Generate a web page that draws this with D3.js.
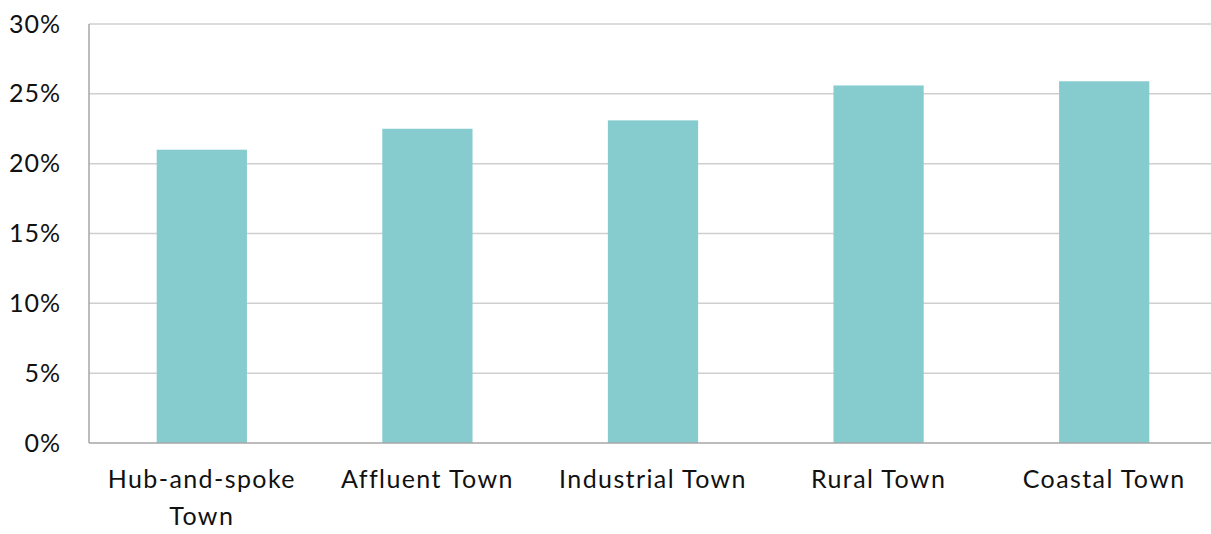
<!DOCTYPE html>
<html>
<head>
<meta charset="utf-8">
<script src="https://cdn.jsdelivr.net/npm/d3@7"></script>
<style>
  body { margin: 0; background: #fff; }
  text { font-family: Lato, "Noto Sans", sans-serif; fill: #111; }
</style>
</head>
<body>
<svg id="chart" width="1211" height="534"></svg>
<script>
/* Share by town type */
var categories = ["Hub-and-spoke Town", "Affluent Town", "Industrial Town", "Rural Town", "Coastal Town"];
var values = [0.210, 0.225, 0.231, 0.256, 0.259];
var yTicks = [0, 0.05, 0.10, 0.15, 0.20, 0.25, 0.30];

var margin = {top: 24, bottom: 91, left: 89, right: -6};
var width = 1211, height = 534;
var barColor = "#86cccf";

var svg = d3.select("#chart")
    .append("g")
    .attr("transform", "translate(" + margin.left + "," + margin.top + ")");

var innerW = width - margin.left - margin.right;
var innerH = height - margin.top - margin.bottom;

var xAxis = d3.scaleBand()
    .domain(categories)
    .range([0, innerW])
    .paddingInner(0.6)
    .paddingOuter(0.3);

var yAxis = d3.scaleLinear()
    .domain([0, 0.30])
    .range([innerH, 0]);

/* gridlines */
svg.selectAll("line.grid")
    .data(yTicks.slice(1))
    .enter()
    .append("line")
    .attr("class", "grid")
    .attr("x1", 0)
    .attr("x2", innerW)
    .attr("y1", d => yAxis(d))
    .attr("y2", d => yAxis(d))
    .attr("stroke", "#cfcfcf")
    .attr("stroke-width", 1.5);

/* bars */
svg.selectAll("rect.bar")
    .data(values)
    .enter()
    .append("rect")
    .attr("class", "bar")
    .attr("x", (d, i) => xAxis(categories[i]))
    .attr("y", d => yAxis(d))
    .attr("width", xAxis.bandwidth())
    .attr("height", d => innerH - yAxis(d))
    .attr("fill", barColor);

/* axis lines */
svg.append("line")
    .attr("x1", 0).attr("x2", 0)
    .attr("y1", 0).attr("y2", innerH)
    .attr("stroke", "#a6a6a6").attr("stroke-width", 1.5);
svg.append("line")
    .attr("x1", 0).attr("x2", innerW)
    .attr("y1", innerH).attr("y2", innerH)
    .attr("stroke", "#a6a6a6").attr("stroke-width", 1.5);

/* y tick labels */
svg.append("g")
    .call(d3.axisLeft(yAxis).tickValues(yTicks).tickFormat(d3.format(".0%")).tickSize(0).tickPadding(28))
    .call(g => g.select(".domain").remove())
    .selectAll("text")
    .attr("font-size", 25)
    .attr("letter-spacing", 1)
    .attr("font-family", "Lato, 'Noto Sans', sans-serif")
    .attr("fill", "#111");

/* x labels, wrapped like the original */
var xLabels = svg.append("g")
    .call(d3.axisBottom(xAxis).tickSize(0).tickPadding(0))
    .attr("transform", "translate(0," + innerH + ")");
xLabels.select(".domain").remove();
xLabels.selectAll("text").remove();
xLabels.selectAll(".tick")
    .append("text")
    .attr("text-anchor", "middle")
    .attr("font-size", 25)
    .attr("letter-spacing", 1.4)
    .attr("fill", "#111")
    .each(function(d) {
        var lines = d === "Hub-and-spoke Town" ? ["Hub-and-spoke", "Town"] : [d];
        var t = d3.select(this);
        lines.forEach(function(l, i) {
            t.append("tspan")
                .attr("x", 0)
                .attr("y", 45 + i * 37)
                .text(l);
        });
    });
</script>
</body>
</html>
